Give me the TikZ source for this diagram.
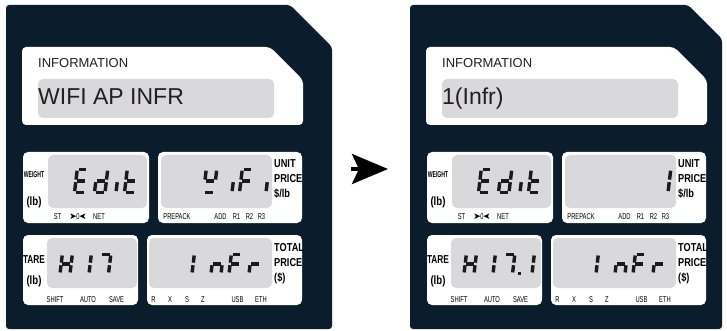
\documentclass[tikz,border=0pt]{standalone}
\usepackage{fontspec}
\usepackage{graphicx}
\setmainfont{Liberation Sans}
\newfontfamily\condb{Liberation Sans}[FakeStretch=0.8]
\newfontfamily\condr{Liberation Sans}[FakeStretch=0.68]
\newfontfamily\dejavu{DejaVu Sans}
\usetikzlibrary{arrows.meta}
\definecolor{navy}{HTML}{0B1D2D}
\definecolor{lcd}{HTML}{D9D8DA}
\definecolor{seg}{HTML}{1A1A1A}
\definecolor{txt}{HTML}{231F20}
\tikzset{
  lbl/.style={inner sep=0pt, anchor=west, text=black, font=\condb\bfseries\fontsize{11.5}{12}\selectfont},
  sml/.style={inner sep=0pt, text=black, font=\condr\fontsize{8.5}{9}\selectfont},
  segline/.style={line width=3.4pt, line cap=butt, draw=seg},
  lcdbox/.style={fill=lcd, rounded corners=5pt},
  whitebox/.style={fill=white, rounded corners=5pt},
}
\def\dg{1.3}
\def\sega{({\dg},{-\dh}) -- ({\dw-\dg},{-\dh})}
\def\segb{({\dw},{-\dh+\dg}) -- ({\dw},{-\dh/2-\dg})}
\def\segc{({\dw},{-\dh/2+\dg}) -- ({\dw},{-\dg})}
\def\segd{({\dg},0) -- ({\dw-\dg},0)}
\def\sege{(0,{-\dg}) -- (0,{-\dh/2+\dg})}
\def\segf{(0,{-\dh/2-\dg}) -- (0,{-\dh+\dg})}
\def\segg{({\dg},{-\dh/2}) -- ({\dw-\dg},{-\dh/2})}
% x0, ybottom, height, width, segments
\newcommand\digit[5]{%
  \begin{scope}[shift={(#1,#2)}, xslant=0.12]
    \def\dh{#3}\def\dw{#4}%
    \foreach \s in {#5}{\draw[segline] \csname seg\s\endcsname;}
  \end{scope}}
\newcommand\bigdig[2]{\digit{#1}{192.4}{23}{10.5}{#2}}
\newcommand\smldig[2]{\digit{#1}{273.7}{19.5}{10}{#2}}
% common body of a panel: #1 prefix, #2 info text
\newcommand\panelbody[2]{%
  \fill[white, rounded corners=4pt] (22,47) -- (270,47) -- (303,80) -- (303,125) -- (22,125) -- cycle;
  \fill[lcdbox] (38,79) rectangle (274,118);
  \node[anchor=base west, inner sep=0pt, text=txt, font=\fontsize{13}{14}\selectfont] (#1info) at (38,68) {INFORMATION};
  \node[anchor=base west, inner sep=0pt, text=txt, font=\fontsize{23}{25}\selectfont] (#1msg) at (38,105) {#2};
  % weight
  \fill[whitebox] (23,152) rectangle (149,223);
  \fill[lcdbox] (48,155) rectangle (147,208);
  \node[inner sep=0pt, font=\condb\bfseries\fontsize{8.5}{8.5}\selectfont, xscale=0.75] (#1wt) at (34,175) {WEIGHT};
  \node[inner sep=0pt, font=\condb\bfseries\fontsize{12}{12}\selectfont] (#1wlb) at (34,202) {(lb)};
  \node[sml] (#1st) at (57.5,217) {ST};
  \node[sml] (#1zero) at (78,217) {{\dejavu\fontsize{9}{9}\selectfont ➤}\kern-0.5pt0\kern-0.5pt{\dejavu\fontsize{9}{9}\selectfont\scalebox{-1}[1]{➤}}};
  \node[sml] (#1net) at (99,217) {NET};
  % unit price
  \fill[whitebox] (158,152) rectangle (302,223);
  \fill[lcdbox] (161,155) rectangle (272,208);
  \node[lbl] (#1unit) at (274,164) {UNIT};
  \node[lbl] (#1uprice) at (274,179) {PRICE};
  \node[lbl] (#1perlb) at (274,194) {\$/lb};
  \node[sml] (#1prepack) at (177,217) {PREPACK};
  \node[sml] (#1add) at (220.5,217) {ADD};
  \node[sml] (#1ra) at (236.5,217) {R1};
  \node[sml] (#1rb) at (249.5,217) {R2};
  \node[sml] (#1rc) at (261.5,217) {R3};
  % tare
  \fill[whitebox] (23,235) rectangle (138,305);
  \fill[lcdbox] (47,238) rectangle (137,288);
  \node[inner sep=0pt, font=\condb\bfseries\fontsize{11.5}{12}\selectfont, xscale=0.9] (#1tare) at (34,260) {TARE};
  \node[inner sep=0pt, font=\condb\bfseries\fontsize{12}{12}\selectfont] (#1tlb) at (34,281) {(lb)};
  \node[sml] (#1shift) at (55,300) {SHIFT};
  \node[sml] (#1auto) at (88,300) {AUTO};
  \node[sml] (#1save) at (116.5,300) {SAVE};
  % total price
  \fill[whitebox] (147,235) rectangle (302,305);
  \fill[lcdbox] (149,238) rectangle (272,288);
  \node[lbl] (#1total) at (274,248) {TOTAL};
  \node[lbl] (#1tprice) at (274,263) {PRICE};
  \node[lbl] (#1dol) at (274,278) {(\$)};
  \node[sml] (#1r) at (153.5,300) {R};
  \node[sml] (#1x) at (170,300) {X};
  \node[sml] (#1s) at (187,300) {S};
  \node[sml] (#1z) at (203,300) {Z};
  \node[sml] (#1usb) at (237.5,300) {USB};
  \node[sml] (#1eth) at (261,300) {ETH};
  % common digits: Edit / InFr
  \bigdig{74.5}{a,d,e,f,g}
  \bigdig{94.5}{b,c,d,e,g}
  \bigdig{116}{e}
  \bigdig{124.5}{d,e,f,g}
  \smldig{60}{b,c,e,f,g}
  \smldig{89}{e,f}
  \smldig{98.5}{a,b,c}
  \smldig{192}{e,f}
  \smldig{211}{c,e,g}
  \smldig{229}{a,e,f,g}
  \smldig{249}{e,g}
}
\begin{document}
\begin{tikzpicture}[x=1pt, y=-1pt]
\useasboundingbox (0,0) rectangle (727,331);
% left panel
\fill[navy, rounded corners=3pt] (6,5) -- (290,5) -- (332,47) -- (332,329) -- (6,329) -- cycle;
\panelbody{L}{WIFI AP INFR}
\bigdig{203.5}{b,d,f,g}
\bigdig{232}{e}
\bigdig{239.5}{a,e,f,g}
\bigdig{266}{e}
% arrow
\coordinate (arrS) at (351,169);
\coordinate (arrE) at (388,169);
\draw[-{Stealth[length=36pt,width=30pt,inset=7pt]}, line width=4pt, draw=black] (arrS) -- (arrE);
% right panel
\fill[navy, rounded corners=3pt] (410,5) -- (688,5) -- (722,39) -- (722,329) -- (410,329) -- cycle;
\begin{scope}[xshift=404]
\panelbody{R}{1(Infr)}
\bigdig{264}{e,f}
\smldig{128}{e,f}
\fill[seg] (114,271.8) rectangle (117,274.8);
\end{scope}
\end{tikzpicture}
\end{document}
